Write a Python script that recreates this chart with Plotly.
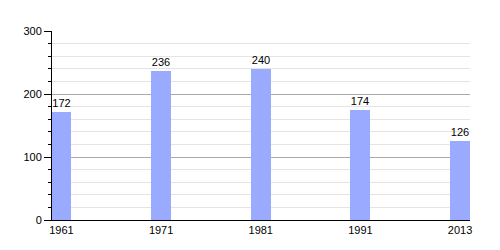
import plotly.graph_objects as go

years = ["1961", "1971", "1981", "1991", "2013"]
population = [172, 236, 240, 174, 126]
y_ticks = [0, 100, 200, 300]

positions = list(range(len(years)))

fig = go.Figure()
fig.add_trace(go.Bar(
    x=positions,
    y=population,
    width=0.2,
    marker=dict(color="#99aaff", line=dict(width=0)),
    text=[str(v) for v in population],
    textposition="outside",
    textfont=dict(family="Liberation Sans, Arial, sans-serif", size=11, color="#000"),
    cliponaxis=False,
))

fig.update_layout(
    width=500, height=250,
    margin=dict(l=52, r=30, t=31, b=30),
    paper_bgcolor="white", plot_bgcolor="white",
    showlegend=False,
    font=dict(family="Liberation Sans, Arial, sans-serif", size=11, color="#000"),
    bargap=0,
)
fig.update_xaxes(
    range=[-0.095, 4.1],
    tickvals=positions, ticktext=years,
    showgrid=False, zeroline=False,
    showline=True, linecolor="#000", linewidth=1,
    ticks="", ticklen=0,
    tickfont=dict(size=11),
)
fig.update_yaxes(
    range=[0, 300],
    tickvals=y_ticks,
    showgrid=True, gridcolor="#aaaaaa", gridwidth=1,
    zeroline=False,
    showline=True, linecolor="#000", linewidth=1,
    ticks="outside", ticklen=7, tickcolor="#000",
    tickfont=dict(size=11),
    minor=dict(dtick=20, showgrid=True, gridcolor="#e4e4e4", gridwidth=1,
               ticks="outside", ticklen=3, tickcolor="#000"),
)

fig.write_html("out.html")
